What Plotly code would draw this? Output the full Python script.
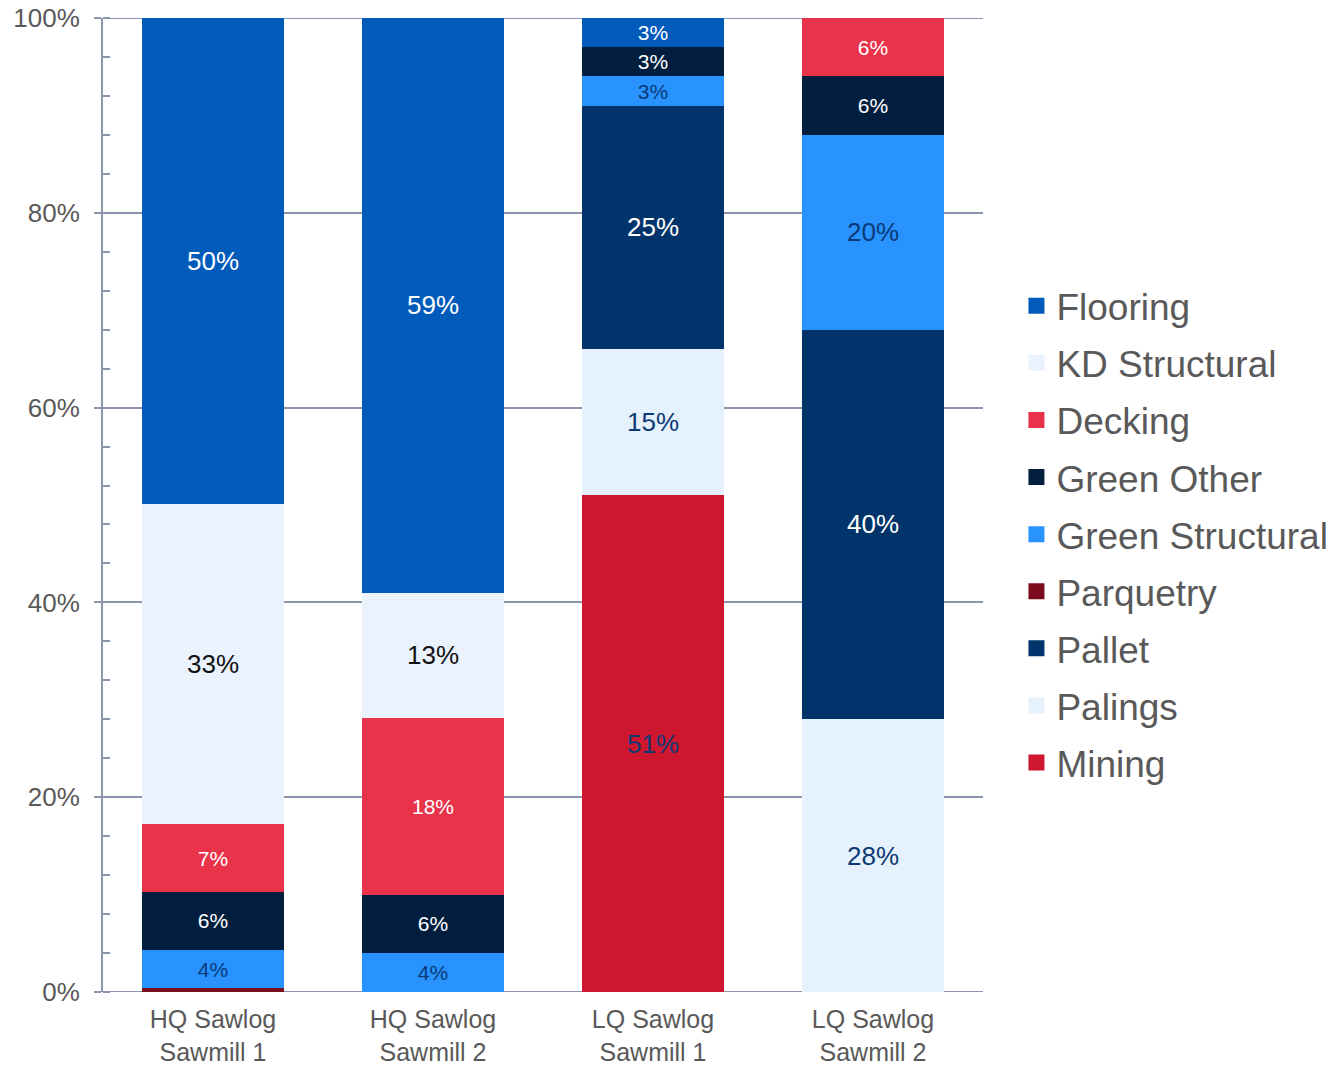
import plotly.graph_objects as go

# categories (x axis)
mills = ["HQ Sawlog<br>Sawmill 1", "HQ Sawlog<br>Sawmill 2", "LQ Sawlog<br>Sawmill 1", "LQ Sawlog<br>Sawmill 2"]

# share of output by product (%), stacked bottom -> top
mining = [0, 0, 51.0, 0]
palings = [0, 0, 15.0, 28.0]
pallet = [0, 0, 25.0, 40.0]
parquetry = [0.4, 0, 0, 0]
green_structural = [3.9, 4.0, 3.0, 20.0]
green_other = [6.0, 6.0, 3.0, 6.0]
decking = [6.9, 18.1, 0, 6.0]
kd_structural = [32.9, 12.9, 0, 0]
flooring = [49.9, 59.0, 3.0, 0]

y_ticks = [0, 20, 40, 60, 80, 100]

FONT = "Arial, Liberation Sans, sans-serif"
GREY = "#595959"
AXIS = "#8C95AE"
NAVY_TXT = "#0B3A74"

# name, values, bar colour, label colour, label sizes per mill
series = [
    ("Mining", mining, "#CE172F", NAVY_TXT, [26, 26, 26, 26]),
    ("Palings", palings, "#E5F1FD", NAVY_TXT, [26, 26, 26, 26]),
    ("Pallet", pallet, "#01346A", "white", [26, 26, 26, 26]),
    ("Parquetry", parquetry, "#7A0C1E", "white", [21, 21, 21, 21]),
    ("Green Structural", green_structural, "#2892FF", NAVY_TXT, [21, 21, 21, 26]),
    ("Green Other", green_other, "#011E3F", "white", [21, 21, 21, 21]),
    ("Decking", decking, "#E8334A", "white", [21, 21, 21, 21]),
    ("KD Structural", kd_structural, "#EAF2FE", "#111111", [26, 26, 26, 26]),
    ("Flooring", flooring, "#005BBB", "white", [26, 26, 21, 26]),
]

fig = go.Figure()

for name, vals, colour, txt_colour, sizes in series:
    labels = [f"{v:.0f}%" if v >= 1 else "" for v in vals]
    fig.add_trace(go.Bar(
        x=mills,
        y=vals,
        name=name,
        marker=dict(color=colour, line=dict(width=0)),
        text=labels,
        textposition="inside",
        insidetextanchor="middle",
        textangle=0,
        constraintext="none",
        textfont=dict(family=FONT, size=sizes, color=txt_colour),
        hoverinfo="skip",
        showlegend=False,
    ))

# legend entries, top of stack first
for name, vals, colour, txt_colour, sizes in reversed(series):
    fig.add_trace(go.Scatter(
        x=[None], y=[None], mode="markers", name=name, legendgroup=name,
        marker=dict(symbol="square", size=18, color=colour),
    ))

# gridlines at the ends of the range get dropped, draw them explicitly
for edge in (y_ticks[0], y_ticks[-1]):
    fig.add_hline(y=edge, line=dict(color=AXIS, width=2), layer="below")

fig.update_layout(
    width=1337,
    height=1067,
    barmode="stack",
    bargap=0.355,
    plot_bgcolor="white",
    paper_bgcolor="white",
    margin=dict(l=103, r=354, t=18, b=75, autoexpand=False),
    font=dict(family=FONT, color=GREY),
    legend=dict(
        x=1.038, y=0.47, xanchor="left", yanchor="middle",
        traceorder="grouped",
        tracegroupgap=6,
        font=dict(family=FONT, size=37, color=GREY),
        itemsizing="trace",
    ),
)

fig.update_xaxes(
    showline=False,
    showgrid=False,
    ticks="",
    ticklabelstandoff=10,
    tickfont=dict(size=25, color=GREY),
)

fig.update_yaxes(
    range=[0, 100],
    tickvals=y_ticks,
    ticktext=[f"{t}%" for t in y_ticks],
    tickfont=dict(size=26, color=GREY),
    ticklabelstandoff=9,
    ticklabeloverflow="allow",
    showgrid=True,
    gridcolor=AXIS,
    gridwidth=2,
    showline=True,
    linecolor=AXIS,
    linewidth=2,
    ticks="outside",
    ticklen=7,
    tickcolor=AXIS,
    tickwidth=2,
    minor=dict(ticks="inside", dtick=4, ticklen=7, tickcolor=AXIS, tickwidth=2, showgrid=False),
    zeroline=False,
)

# drop the browser's default 8px body margin so the figure fills the window
fig.write_html(
    "out.html",
    config={"displayModeBar": False},
    post_script="document.body.style.margin = '0';",
)
